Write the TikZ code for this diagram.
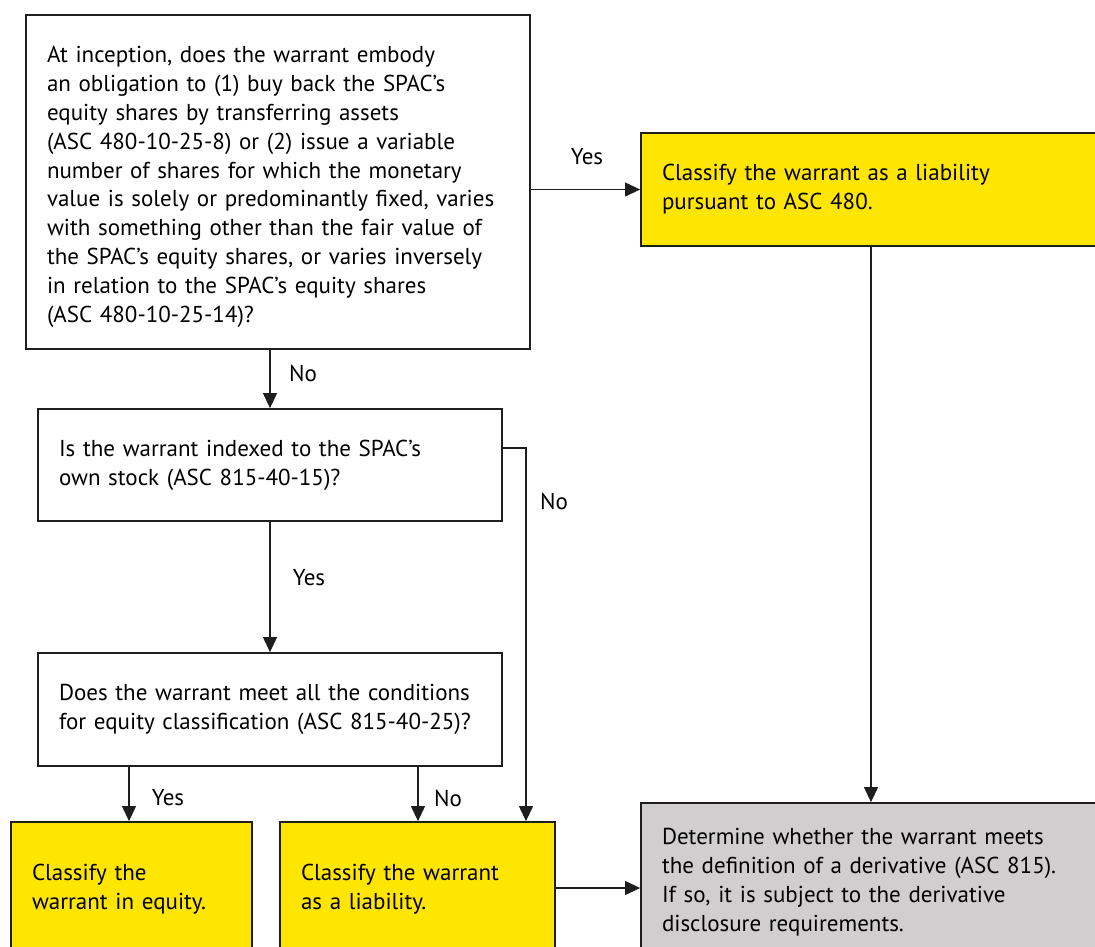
\documentclass[tikz,border=0pt]{standalone}
\usepackage{fontspec}
\setmainfont{PT Sans}
\usetikzlibrary{arrows.meta,calc}
\definecolor{eyyellow}{HTML}{FFE600}
\definecolor{eygray}{HTML}{D0CECE}
\definecolor{lineclr}{HTML}{1E1E1E}
\newcommand\dfont{\fontsize{23pt}{28.8pt}\selectfont}
\begin{document}
\begin{tikzpicture}[x=1pt,y=-1pt,
  qbox/.style={draw=lineclr, line width=1.8pt, fill=white, inner xsep=21pt, inner ysep=0pt, align=left, font=\dfont},
  ybox/.style={qbox, fill=eyyellow},
  gbox/.style={qbox, fill=eygray},
  con/.style={draw=lineclr, line width=1.1pt},
  arr/.style={con, -{Triangle[length=15pt,width=14pt]}},
  lbl/.style={font=\dfont, inner sep=0pt}]
\useasboundingbox (0,0) rectangle (1095,946);
\clip (0,0) rectangle (1095,946);
\fill[white] (0,0) rectangle (1095,946);

\node[qbox, text width=462pt, minimum height=334pt] (q1) at (278,182)
 {\rule{0pt}{26pt}\mbox{At inception, does the warrant embody}\\
  \mbox{an obligation to (1) buy back the SPAC’s}\\
  \mbox{equity shares by transferring assets}\\
  \mbox{(ASC 480-10-25-8) or (2) issue a variable}\\
  \mbox{number of shares for which the monetary}\\
  \mbox{value is solely or predominantly fixed, varies}\\
  \mbox{with something other than the fair value of}\\
  \mbox{the SPAC’s equity shares, or varies inversely}\\
  \mbox{in relation to the SPAC’s equity shares}\\
  \mbox{(ASC 480-10-25-14)?}};

\node[ybox, text width=457pt, minimum height=113pt] (r1) at (890.5,189.5)
 {\mbox{Classify the warrant as a liability}\\
  \mbox{pursuant to ASC 480.}};

\node[qbox, text width=422pt, minimum height=112pt] (q2) at (270,465)
 {\mbox{Is the warrant indexed to the SPAC’s}\\
  \mbox{own stock (ASC 815-40-15)?}};

\node[qbox, text width=422pt, minimum height=113pt] (q3) at (270,709.5)
 {\mbox{Does the warrant meet all the conditions}\\
  \mbox{for equity classification (ASC 815-40-25)?}};

\node[ybox, text width=199pt, minimum height=134pt] (r2) at (131.5,889)
 {\mbox{Classify the}\\
  \mbox{warrant in equity.}};

\node[ybox, text width=233pt, minimum height=134pt] (r3) at (417.5,889)
 {\mbox{Classify the warrant}\\
  \mbox{as a liability.}};

\node[gbox, text width=457pt, minimum height=158pt] (d) at (890.5,882)
 {\mbox{Determine whether the warrant meets}\\
  \mbox{the definition of a derivative (ASC 815).}\\
  \mbox{If so, it is subject to the derivative}\\
  \mbox{disclosure requirements.}};

% connectors
\draw[arr] (q1.east |- r1.west) -- (r1.west);
\node[lbl] (lyes1) at (587,157) {Yes};

\coordinate (mx) at (270,0);
\draw[arr] (q1.south -| mx) -- (q2.north -| mx);
\node[lbl] (lno1) at (303,373) {No};

\draw[arr] (q2.south) -- (q3.north);
\node[lbl] (lyes2) at (309,578) {Yes};

\coordinate (nc) at (526,448);
\draw[arr] (q2.east |- nc) -- (nc) -- (nc |- r3.north);
\node[lbl] (lno2) at (554,501) {No};

\coordinate (ya) at (129,0);
\draw[arr] (q3.south -| ya) -- (r2.north -| ya);
\node[lbl] (lyes3) at (168,798) {Yes};

\coordinate (na) at (418,0);
\draw[arr] (q3.south -| na) -- (r3.north -| na);
\node[lbl] (lno3) at (448,798) {No};

\coordinate (dy) at (0,888);
\draw[arr] (r3.east |- dy) -- (d.west |- dy);

\coordinate (dx) at (871,0);
\draw[arr] (r1.south -| dx) -- (d.north -| dx);
\end{tikzpicture}
\end{document}
